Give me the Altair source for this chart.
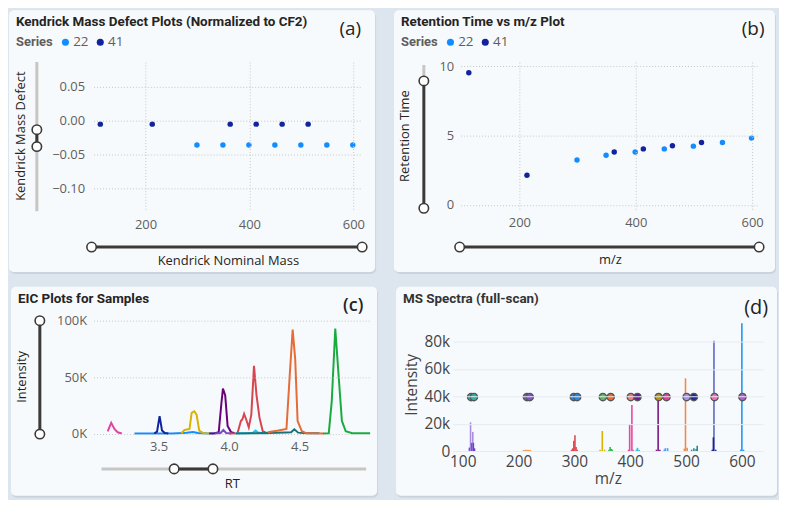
import altair as alt
import pandas as pd

# ---------------- data ----------------
# (a) Kendrick mass defect (normalized to CF2)
kmd_series = ["41", "41", "41", "41", "41", "41", "22", "22", "22", "22", "22", "22", "22"]
kmd_mass = [113, 213, 363, 413, 463, 513, 299, 349, 399, 449, 499, 549, 599]
kmd_defect = [-0.005, -0.005, -0.005, -0.005, -0.005, -0.005,
              -0.036, -0.036, -0.036, -0.036, -0.036, -0.036, -0.036]

# (b) retention time vs m/z
rt_series = ["41", "41", "41", "41", "41", "41", "22", "22", "22", "22", "22", "22", "22"]
rt_mz = [113, 213, 363, 413, 463, 513, 299, 349, 399, 449, 499, 549, 599]
rt_time = [9.55, 2.14, 3.81, 4.04, 4.27, 4.50, 3.24, 3.58, 3.81, 4.04, 4.24, 4.50, 4.82]

series_names = ["22", "41"]
series_colors = ["#118DFF", "#12239E"]

# (c) EIC traces (retention time, intensity)
eic_pink_rt = [3.14, 3.165, 3.188, 3.211, 3.24]
eic_pink_i = [2300, 9800, 4300, 1400, 300]
eic_lblue_rt = [3.33, 3.45, 3.60, 3.70, 3.745, 3.78, 3.85, 3.90]
eic_lblue_i = [300, 300, 400, 900, 1600, 800, 400, 300]
eic_navy_rt = [3.47, 3.49, 3.508, 3.525, 3.545, 3.57]
eic_navy_i = [300, 2000, 15700, 3000, 800, 300]
eic_yellow_rt = [3.66, 3.685, 3.72, 3.735, 3.754, 3.77, 3.789, 3.82, 3.86]
eic_yellow_i = [300, 3400, 4300, 18600, 20000, 17000, 2900, 500, 300]
eic_purple_rt = [3.86, 3.893, 3.927, 3.946, 3.957, 3.973, 3.99, 4.015, 4.04]
eic_purple_i = [300, 400, 1400, 27000, 40000, 34000, 7000, 1400, 500]
eic_lav_rt = [3.90, 3.94, 3.96, 3.98, 4.02]
eic_lav_i = [300, 800, 3400, 800, 300]
eic_red_rt = [4.0, 4.06, 4.084, 4.095, 4.107, 4.121, 4.14, 4.158, 4.177, 4.195, 4.216, 4.239, 4.274]
eic_red_i = [300, 600, 11400, 12900, 17700, 12900, 5700, 17000, 60000, 34000, 14300, 2300, 500]
eic_cyan_rt = [4.05, 4.12, 4.17, 4.188, 4.205, 4.24, 4.28]
eic_cyan_i = [500, 600, 900, 2900, 1200, 600, 500]
eic_teal_rt = [4.05, 4.20, 4.274, 4.40, 4.44, 4.463, 4.49, 4.55, 4.64]
eic_teal_i = [400, 500, 800, 1200, 1400, 4000, 1100, 600, 500]
eic_orange_rt = [4.274, 4.35, 4.407, 4.43, 4.451, 4.469, 4.486, 4.516, 4.55, 4.67]
eic_orange_i = [1500, 3000, 4300, 51000, 92000, 66000, 11400, 2300, 500, 400]
eic_green_rt = [4.666, 4.707, 4.728, 4.753, 4.777, 4.80, 4.827, 4.874, 5.0]
eic_green_i = [300, 600, 28600, 93000, 51000, 11400, 2300, 600, 500]

eic_traces = [
    ("s01", "#E044A7", eic_pink_rt, eic_pink_i),
    ("s02", "#118DFF", eic_lblue_rt, eic_lblue_i),
    ("s03", "#12239E", eic_navy_rt, eic_navy_i),
    ("s04", "#D9B300", eic_yellow_rt, eic_yellow_i),
    ("s05", "#6B007B", eic_purple_rt, eic_purple_i),
    ("s06", "#744EC2", eic_lav_rt, eic_lav_i),
    ("s07", "#D64550", eic_red_rt, eic_red_i),
    ("s08", "#15C6F4", eic_cyan_rt, eic_cyan_i),
    ("s09", "#197278", eic_teal_rt, eic_teal_i),
    ("s10", "#E66C37", eic_orange_rt, eic_orange_i),
    ("s11", "#1AAB40", eic_green_rt, eic_green_i),
]

# (d) MS spectra: stick lines
spec_mz = [112, 114, 116, 118, 119, 121,
           209, 212, 215, 218, 221,
           295, 297, 299, 301, 303, 305,
           346, 350, 354,
           362, 364, 366, 368,
           397, 399, 403, 405,
           411, 413, 416,
           447, 450, 453,
           461, 463, 467,
           497, 499, 502,
           510, 514, 518, 520,
           547, 550, 549, 553,
           598, 600, 603]
spec_int = [2500, 21000, 6000, 14000, 6000, 2000,
            800, 900, 900, 900, 800,
            1000, 2000, 7600, 11600, 3000, 1000,
            1000, 14700, 1000,
            1000, 3000, 1500, 1000,
            1000, 19500, 33700, 1000,
            1000, 2400, 1000,
            1000, 37300, 1000,
            1000, 2100, 2100,
            1800, 53200, 2500,
            1000, 2000, 1500, 3900,
            1000, 80700, 10000, 1000,
            1000, 93500, 1000]
spec_color = ["#6a3fc8", "#a98ee0", "#7c4dd6", "#a98ee0", "#6a3fc8", "#6a3fc8",
              "#f0914a", "#f0914a", "#f0914a", "#f0914a", "#f0914a",
              "#e0474c", "#e0474c", "#e0474c", "#e0474c", "#e0474c", "#e0474c",
              "#d9b300", "#d9b300", "#d9b300",
              "#2eb84b", "#2eb84b", "#2eb84b", "#2eb84b",
              "#e8479f", "#e8479f", "#e8479f", "#e8479f",
              "#27c1e8", "#27c1e8", "#27c1e8",
              "#7a1585", "#7a1585", "#7a1585",
              "#4a9cff", "#4a9cff", "#4a9cff",
              "#f08a4b", "#f08a4b", "#f08a4b",
              "#2a8a8a", "#2a8a8a", "#2a8a8a", "#2a8a8a",
              "#1a2190", "#5c67c4", "#1a2190", "#1a2190",
              "#2196f3", "#2196f3", "#2196f3"]
spec_base = [0] * len(spec_mz)

# (d) markers
mark_mz = [115, 120, 215, 220, 299, 305, 351, 365, 401, 413, 451, 465, 501, 514, 551, 601]
mark_int = [39500, 39500, 39500, 39500, 39500, 39500, 39500, 39500,
            39500, 39500, 39500, 39500, 39500, 39500, 39500, 39500]
mark_color = ["#1fb59a", "#2bb3a3", "#7d57c9", "#7d57c9", "#2188e8", "#2188e8",
              "#5cb85c", "#e8672f", "#f07a7a", "#6a1b9a", "#b59410", "#e040a0",
              "#a792e6", "#1f2a9e", "#f06bb4", "#b05cc4"]

# ---------------- styling ----------------
FONT = "Open Sans"
TFONT = "Roboto"
BG = "#dde6ee"
CARD = "#f7fafc"
SHADOW = "#c3ccd6"
LABEL_C = "#605E5C"
TITLE_C = "#252423"
GRID_C = "#c8c6c4"
SLIDER_DARK = "#3b3a39"
SLIDER_LIGHT = "#c8c6c4"
PTITLE = 13.5


def one():
    return alt.Data(values=[{"k": 0}])


def rect(x1, x2, y1, y2, color, radius=0, opacity=1.0):
    return alt.Chart(one()).mark_rect(color=color, cornerRadius=radius, opacity=opacity).encode(
        x=alt.value(x1), x2=alt.value(x2), y=alt.value(y1), y2=alt.value(y2))


def card(x1, x2, y1, y2):
    return [rect(x1 + 1, x2 + 1, y1 + 2, y2 + 2, SHADOW, 5, 0.7),
            rect(x1, x2, y1, y2, CARD, 5)]


def hline(x1, x2, y, color, w=3):
    return alt.Chart(one()).mark_rule(color=color, strokeWidth=w).encode(
        x=alt.value(x1), x2=alt.value(x2), y=alt.value(y))


def vline(x, y1, y2, color, w=3):
    return alt.Chart(one()).mark_rule(color=color, strokeWidth=w).encode(
        x=alt.value(x), y=alt.value(y1), y2=alt.value(y2))


def knob(x, y):
    return alt.Chart(one()).mark_circle(color="white", stroke=SLIDER_DARK, strokeWidth=1.6,
                                        size=90, opacity=1).encode(
        x=alt.value(x), y=alt.value(y))


def text(s, x, y, size=PTITLE, weight="bold", font=TFONT, color=TITLE_C, align="left"):
    return alt.Chart(one()).mark_text(text=s, font=font, fontSize=size, fontWeight=weight,
                                      color=color, align=align, baseline="middle").encode(
        x=alt.value(x), y=alt.value(y))


def pbi_axis(title, values, tx, ty, grid, fmt=None, label_expr=None, pad=9, orient_y=False):
    kw = dict(values=values, grid=grid, gridDash=[1, 2], gridColor=GRID_C, gridWidth=1,
              domain=False, ticks=False, tickSize=0, labelPadding=pad, labelOverlap=False,
              labelFont=FONT, labelFontSize=13, labelColor=LABEL_C,
              title=title, titleFont=FONT, titleFontSize=13, titleFontWeight="normal",
              titleColor=TITLE_C, titleX=tx, titleY=ty, titleBaseline="middle",
              titleAlign="center", zindex=1)
    if fmt:
        kw["format"] = fmt
    if label_expr:
        kw["labelExpr"] = label_expr
    if orient_y:
        kw["titleAngle"] = 270
    return alt.Axis(**kw)


def series_legend(x, y):
    return alt.Legend(orient="none", legendX=x, legendY=y, direction="horizontal",
                      title="Series", titleOrient="left", titleFont=TFONT, titleFontSize=13,
                      titleFontWeight="bold", titleColor=LABEL_C, titlePadding=6,
                      labelFont=FONT, labelFontSize=13.5, labelColor=LABEL_C, labelOffset=1,
                      symbolType="circle", symbolSize=50, symbolStrokeWidth=0,
                      columnPadding=5, padding=0, zindex=1)


# ---------------- panel (a) ----------------
WA, HA = 270, 148
df_a = pd.DataFrame({"series": kmd_series, "mass": kmd_mass, "kmd": kmd_defect})
pts_a = alt.Chart(df_a).mark_circle(size=30, opacity=1).encode(
    x=alt.X("mass:Q", scale=alt.Scale(domain=[100, 617], nice=False, zero=False),
            axis=pbi_axis("Kendrick Nominal Mass", [200, 400, 600], WA / 2, 52, True)),
    y=alt.Y("kmd:Q", scale=alt.Scale(domain=[-0.131, 0.087], nice=False, zero=False),
            axis=pbi_axis("Kendrick Mass Defect", [-0.10, -0.05, 0.0, 0.05], -73, HA / 2, True,
                          fmt=".2f", orient_y=True)),
    color=alt.Color("series:N", scale=alt.Scale(domain=series_names, range=series_colors),
                    legend=series_legend(-78, -27)),
)
panel_a = alt.layer(
    *card(-85, WA + 13, -52, HA + 63),
    vline(-57, 0, 150, SLIDER_LIGHT), vline(-57, 68, 85, SLIDER_DARK),
    knob(-57, 68), knob(-57, 85),
    hline(-2, WA, 186, SLIDER_DARK), knob(-2, 186), knob(WA, 186),
    pts_a,
    text("Kendrick Mass Defect Plots (Normalized to CF2)", -78, -40),
    text("(a)", WA - 12, -33, size=19, weight="normal", font=FONT, align="center"),
).properties(width=WA, height=HA)

# ---------------- panel (b) ----------------
WB, HB = 300, 148
df_b = pd.DataFrame({"series": rt_series, "mz": rt_mz, "rt": rt_time})
pts_b = alt.Chart(df_b).mark_circle(size=30, opacity=1).encode(
    x=alt.X("mz:Q", scale=alt.Scale(domain=[99, 612], nice=False, zero=False),
            axis=pbi_axis("m/z", [200, 400, 600], WB / 2, 51, True, pad=7)),
    y=alt.Y("rt:Q", scale=alt.Scale(domain=[-0.32, 10.32], nice=False, zero=False),
            axis=pbi_axis("Retention Time", [0, 5, 10], -56, HB / 2, True, pad=7, orient_y=True)),
    color=alt.Color("series:N", scale=alt.Scale(domain=series_names, range=series_colors),
                    legend=series_legend(-60, -27)),
)
panel_b = alt.layer(
    *card(-67, WB + 16, -52, HB + 63),
    vline(-37, 3, 19, SLIDER_LIGHT), vline(-37, 19, 147, SLIDER_DARK),
    knob(-37, 19), knob(-37, 147),
    hline(-1, WB, 186, SLIDER_DARK), knob(-1, 186), knob(WB, 186),
    pts_b,
    text("Retention Time vs m/z Plot", -60, -40),
    text("(b)", WB - 6, -33, size=19, weight="normal", font=FONT, align="center"),
).properties(width=WB, height=HB)

# ---------------- panel (c) ----------------
WC, HC = 278, 122
rows = []
for name, col, rts, ints in eic_traces:
    for r, v in zip(rts, ints):
        rows.append({"sample": name, "color": col, "rt": r, "intensity": v})
df_c = pd.DataFrame(rows)
lines_c = alt.Chart(df_c).mark_line(strokeWidth=2, interpolate="linear").encode(
    x=alt.X("rt:Q", scale=alt.Scale(domain=[3.04, 5.0], nice=False, zero=False),
            axis=pbi_axis("RT", [3.5, 4.0, 4.5], WC / 2, 47, False, fmt=".1f", pad=4)),
    y=alt.Y("intensity:Q", scale=alt.Scale(domain=[-2800, 104300], nice=False, zero=False),
            axis=pbi_axis("Intensity", [0, 50000, 100000], -72, HC / 2, True,
                          label_expr="datum.value / 1000 + 'K'", pad=7, orient_y=True)),
    color=alt.Color("color:N", scale=None),
    detail="sample:N",
)
panel_c = alt.layer(
    *card(-83, WC + 7, -29, HC + 59),
    vline(-54, 5, 119, SLIDER_DARK), knob(-54, 5), knob(-54, 119),
    hline(8, WC - 4, 154, SLIDER_LIGHT), hline(81, 120, 154, SLIDER_DARK),
    knob(81, 154), knob(120, 154),
    lines_c,
    text("EIC Plots for Samples", -76, -17),
    text("(c)", WC - 17, -10, size=18, weight=600, font=FONT, align="center"),
).properties(width=WC, height=HC)

# ---------------- panel (d) ----------------
WD, HD = 312, 138
df_d = pd.DataFrame({"mz": spec_mz, "intensity": spec_int, "base": spec_base, "color": spec_color})
df_m = pd.DataFrame({"mz": mark_mz, "intensity": mark_int, "color": mark_color})
x_d = alt.X("mz:Q", scale=alt.Scale(domain=[82, 638], nice=False, zero=False),
            axis=alt.Axis(values=[100, 200, 300, 400, 500, 600], grid=False, domain=False,
                          ticks=False, tickSize=0, labelPadding=2, labelOverlap=False,
                          labelFont=FONT, labelFontSize=15.5, labelColor="#444", title="m/z",
                          titleFont=FONT, titleFontSize=15.5, titleFontWeight="normal",
                          titleColor="#444", titleX=WD / 2, titleY=26, titleBaseline="middle",
                          titleAlign="center", zindex=1))
y_d = alt.Y("intensity:Q", scale=alt.Scale(domain=[-1400, 99000], nice=False, zero=False),
            axis=alt.Axis(values=[0, 20000, 40000, 60000, 80000], grid=True, gridColor="#e6ebf0",
                          gridWidth=1, domain=False, ticks=False, tickSize=0, labelPadding=3,
                          labelOverlap=False, labelFont=FONT, labelFontSize=15.5,
                          labelColor="#444",
                          labelExpr="datum.value == 0 ? '0' : datum.value / 1000 + 'k'",
                          title="Intensity", titleFont=FONT, titleFontSize=15.5,
                          titleFontWeight="normal", titleColor="#444", titleX=-41,
                          titleY=HD / 2, titleBaseline="middle", titleAlign="center",
                          titleAngle=270, zindex=1))
sticks = alt.Chart(df_d).mark_rule(strokeWidth=1.6).encode(
    x=x_d, y=y_d, y2="base:Q", color=alt.Color("color:N", scale=None))
markers = alt.Chart(df_m).mark_circle(size=55, opacity=1, stroke="#555555", strokeWidth=1.3).encode(
    x=x_d, y=y_d, color=alt.Color("color:N", scale=None))
panel_d = alt.layer(
    *card(-57, WD + 14, -29, HD + 43),
    sticks, markers,
    text("MS Spectra (full-scan)", -50, -17, color="#333"),
    text("(d)", WD - 7, -8, size=20, weight="normal", font=FONT, align="center", color="#222"),
).properties(width=WD, height=HD)

# ---------------- assemble ----------------
top = alt.hconcat(panel_a, panel_b, spacing=16).resolve_scale(color="independent")
bottom = alt.hconcat(panel_c, panel_d, spacing=16).resolve_scale(color="independent")
chart = alt.vconcat(top, bottom, spacing=11).resolve_scale(color="independent").properties(
    background=BG, padding=0
).configure_view(stroke="transparent")

chart.save("out.html", embed_options={"renderer": "svg", "actions": False})
